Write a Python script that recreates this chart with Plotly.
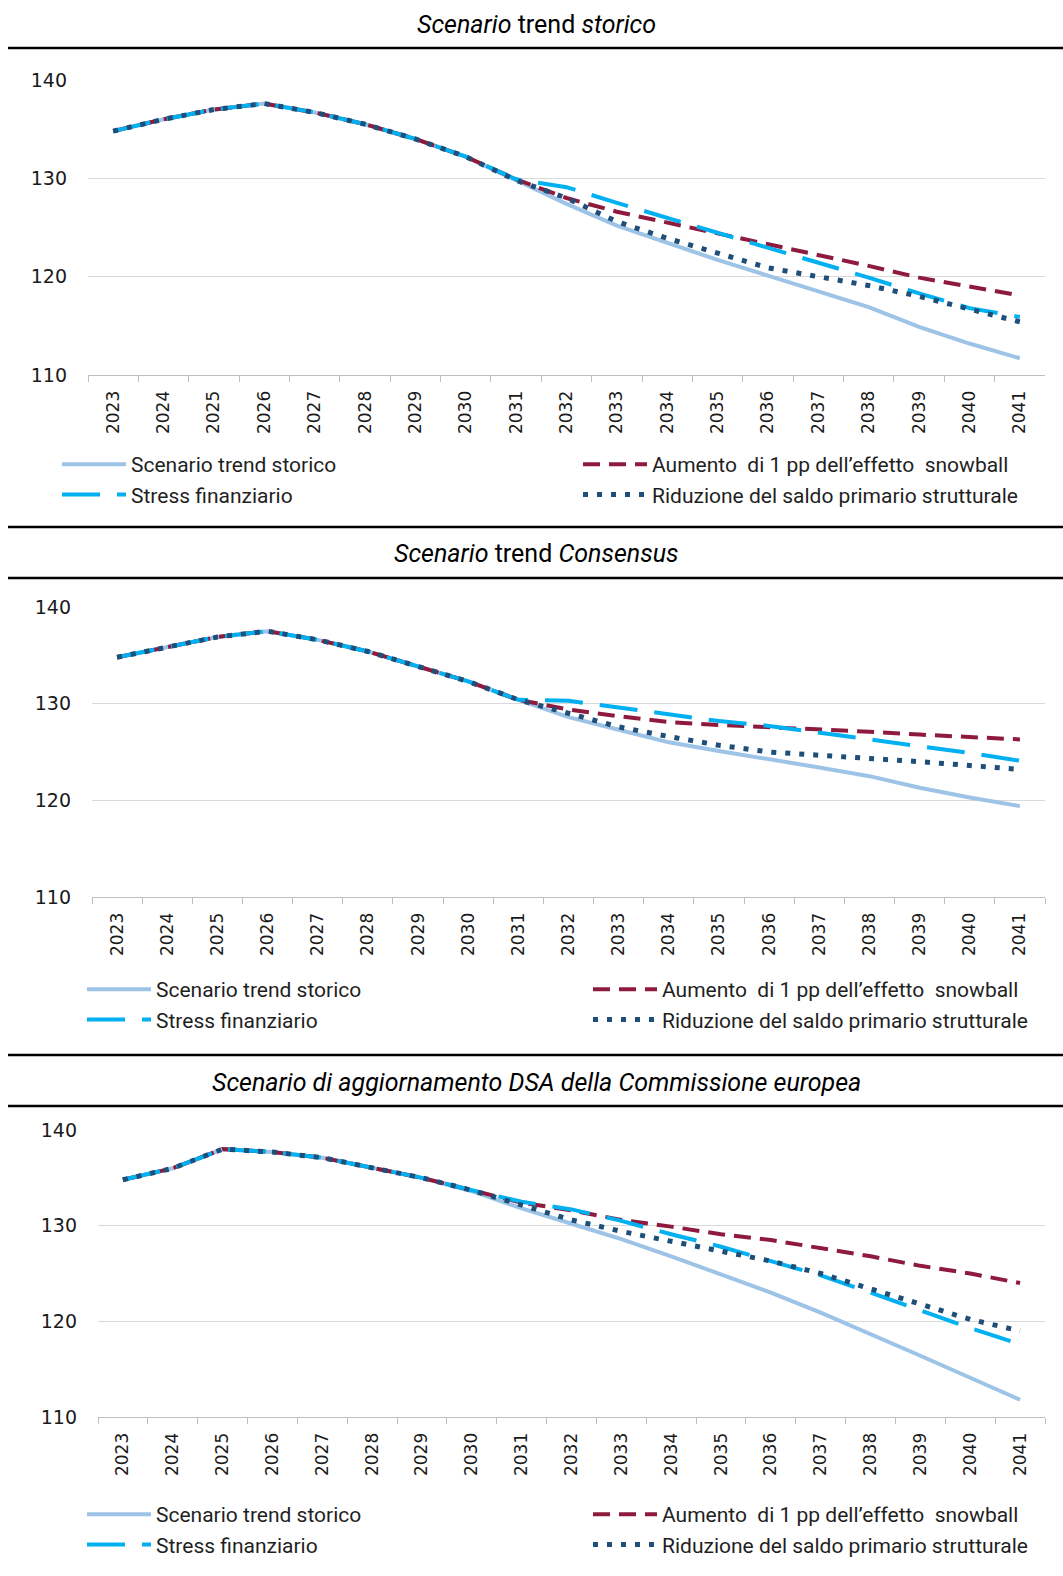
import plotly.graph_objects as go

# =========================================================
# Data
# =========================================================

years = [str(y) for y in range(2023, 2042)]

series_names = [
    "Scenario trend storico",
    "Aumento  di 1 pp dell\u2019effetto  snowball",
    "Stress finanziario",
    "Riduzione del saldo primario strutturale",
]

panel_titles = [
    "<i>Scenario</i> trend <i>storico</i>",
    "<i>Scenario</i> trend <i>Consensus</i>",
    "<i>Scenario di aggiornamento DSA della Commissione europea</i>",
]

# Panel 1 - trend storico
p1_base = [134.8, 136.0, 137.0, 137.6, 136.7, 135.5, 134.0, 132.2, 129.8,
           127.4, 125.2, 123.4, 121.7, 120.1, 118.5, 116.9, 114.9, 113.2, 111.7]
p1_snow = [134.8, 136.0, 137.0, 137.6, 136.7, 135.5, 134.0, 132.2, 129.9,
           128.0, 126.6, 125.5, 124.5, 123.4, 122.3, 121.1, 119.9, 119.0, 118.1]
p1_stress = [134.8, 136.0, 137.0, 137.6, 136.7, 135.5, 134.0, 132.2, 129.9,
             129.1, 127.5, 126.0, 124.4, 122.9, 121.5, 119.9, 118.3, 116.8, 115.9]
p1_dot = [134.8, 136.0, 137.0, 137.6, 136.7, 135.5, 134.0, 132.2, 129.8,
          128.0, 125.6, 123.9, 122.4, 120.9, 120.0, 119.1, 118.0, 116.7, 115.4]

# Panel 2 - trend Consensus
p2_base = [134.8, 135.9, 136.9, 137.5, 136.6, 135.4, 133.8, 132.3, 130.4,
           128.6, 127.3, 126.0, 125.1, 124.3, 123.4, 122.5, 121.3, 120.3, 119.4]
p2_snow = [134.8, 135.9, 136.9, 137.5, 136.6, 135.4, 133.8, 132.3, 130.4,
           129.4, 128.7, 128.1, 127.8, 127.6, 127.3, 127.1, 126.8, 126.5, 126.3]
p2_stress = [134.8, 135.9, 136.9, 137.5, 136.6, 135.4, 133.8, 132.3, 130.4,
             130.3, 129.6, 128.9, 128.2, 127.7, 127.0, 126.4, 125.6, 124.9, 124.1]
p2_dot = [134.8, 135.9, 136.9, 137.5, 136.6, 135.4, 133.8, 132.3, 130.4,
          129.0, 127.6, 126.6, 125.7, 125.0, 124.7, 124.4, 124.0, 123.6, 123.2]

# Panel 3 - aggiornamento DSA
p3_base = [134.8, 136.0, 138.0, 137.7, 137.1, 136.1, 135.0, 133.6, 131.8,
           130.2, 128.6, 126.8, 124.9, 123.0, 120.9, 118.7, 116.4, 114.1, 111.8]
p3_snow = [134.8, 136.0, 138.0, 137.7, 137.1, 136.1, 135.0, 133.7, 132.4,
           131.6, 130.6, 129.9, 129.1, 128.5, 127.7, 126.8, 125.8, 125.0, 124.0]
p3_stress = [134.8, 136.0, 138.0, 137.7, 137.1, 136.1, 135.0, 133.7, 132.5,
             131.7, 130.5, 129.1, 127.8, 126.3, 124.8, 123.0, 121.1, 119.3, 117.6]
p3_dot = [134.8, 136.0, 138.0, 137.7, 137.1, 136.1, 135.0, 133.7, 132.2,
          130.6, 129.4, 128.4, 127.4, 126.3, 125.0, 123.4, 121.7, 120.2, 119.0]

panels = [
    [p1_base, p1_snow, p1_stress, p1_dot],
    [p2_base, p2_snow, p2_stress, p2_dot],
    [p3_base, p3_snow, p3_stress, p3_dot],
]


# =========================================================
# Styles
# =========================================================

W, H = 1063, 1576

line_styles = [
    dict(color="#9DC3E6", width=4, dash="solid"),
    dict(color="#8E1B3D", width=4, dash="17px,9px"),
    dict(color="#00B0F0", width=4, dash="38px,17px"),
    dict(color="#1F4E79", width=5, dash="5px,9px"),
]

TEXT_FONT = "Liberation Sans Narrow, Roboto, Arial"
TICK_FONT = "DejaVu Sans, Verdana"

# pixel layout of each panel (left, right, top, bottom of plot area)
plot_boxes = [
    (88, 1045, 80, 375),
    (92, 1045, 607, 897),
    (98, 1045, 1130, 1417),
]
title_y = [25, 553, 1082]
legend_pos = [(57, 444), (82, 969), (82, 1494)]
legend_entry = [442, 427, 427]
rule_y = [48, 527, 578, 1055, 1106]


def fx(px):
    return px / W


def fy(py):
    return 1 - py / H


fig = go.Figure()

for i, data in enumerate(panels):

    n = "" if i == 0 else str(i + 1)
    left, right, top, bottom = plot_boxes[i]

    for name, vals, style in zip(series_names, data, line_styles):
        fig.add_trace(go.Scatter(
            x=years,
            y=vals,
            name=name,
            mode="lines",
            line=style,
            xaxis="x" + n,
            yaxis="y" + n,
            legend="legend" + n,
            hoverinfo="x+y+name",
        ))

    fig.layout["xaxis" + n] = dict(
        domain=[fx(left), fx(right)],
        anchor="y" + n,
        type="category",
        range=[-0.5, len(years) - 0.5],
        automargin=False,
        showgrid=False,
        showline=True,
        linecolor="#BFBFBF",
        linewidth=1,
        ticks="outside",
        tickson="boundaries",
        ticklen=6,
        tickcolor="#BFBFBF",
        tickangle=-90,
        ticklabelstandoff=8,
        tickfont=dict(family=TICK_FONT, size=17, color="#1A1A1A"),
        zeroline=False,
    )

    fig.layout["yaxis" + n] = dict(
        domain=[fy(bottom), fy(top)],
        anchor="x" + n,
        automargin=False,
        range=[110, 140],
        tickvals=[110, 120, 130, 140],
        showgrid=True,
        gridcolor="#D9D9D9",
        gridwidth=1,
        showline=False,
        zeroline=False,
        ticks="",
        ticklabelstandoff=20,
        tickfont=dict(family=TICK_FONT, size=19, color="#1A1A1A"),
    )

    lx, ly = legend_pos[i]
    fig.layout["legend" + n] = dict(
        x=fx(lx),
        y=fy(ly),
        xanchor="left",
        yanchor="top",
        orientation="h",
        entrywidth=legend_entry[i],
        entrywidthmode="pixels",
        itemwidth=64,
        font=dict(family=TEXT_FONT, size=21, color="#1F1F1F"),
        bgcolor="rgba(0,0,0,0)",
        traceorder="normal",
    )

    fig.add_annotation(
        text=panel_titles[i],
        x=0.505,
        y=fy(title_y[i]),
        xref="paper",
        yref="paper",
        xanchor="center",
        yanchor="middle",
        showarrow=False,
        font=dict(family=TEXT_FONT, size=25, color="#000000"),
    )

for ry in rule_y:
    fig.add_shape(
        type="line",
        xref="paper",
        yref="paper",
        x0=fx(8),
        x1=1,
        y0=fy(ry),
        y1=fy(ry),
        line=dict(color="#000000", width=2.5),
    )

fig.update_layout(
    width=W,
    height=H,
    margin=dict(l=0, r=0, t=0, b=0, autoexpand=False),
    paper_bgcolor="white",
    plot_bgcolor="white",
    showlegend=True,
)

fig.write_html(
    "out.html",
    config={"displayModeBar": False},
    post_script="document.body.style.margin = '0px';",
)
